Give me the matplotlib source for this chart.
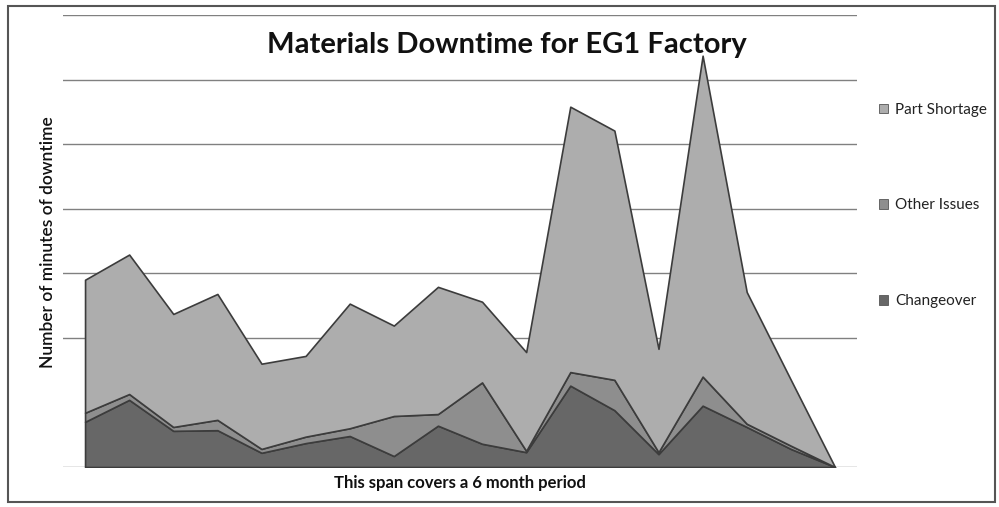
import matplotlib.pyplot as plt
from matplotlib.patches import Patch, Rectangle

plt.rcParams['font.family'] = ['Lato', 'DejaVu Sans']

# downtime per sample over the six month span (minutes)
periods = list(range(18))
changeover = [70, 104, 56, 57, 22, 37, 48, 17, 64, 36, 23, 126, 88, 20, 95, 62, 28, 0]
other_issues = [14, 9, 6, 16, 6, 10, 12, 62, 18, 95, 2, 21, 47, 3, 45, 5, 5, 0]
part_shortage = [206, 216, 175, 195, 132, 125, 193, 140, 197, 125, 153, 411, 386, 160, 497, 204, 102, 0]
series_names = ['Changeover', 'Other Issues', 'Part Shortage']
grid_levels = [0, 200, 300, 400, 500, 600, 700]

colors = ['#676767', '#8e8e8e', '#adadad']

fig = plt.figure(figsize=(9.99, 5.07), dpi=100)
ax = fig.add_axes([63 / 999, 40 / 507, 794 / 999, 452 / 507])

ax.stackplot(periods, changeover, other_issues, part_shortage,
             colors=colors, edgecolor='#3c3c3c', linewidth=1.2, zorder=2)

ax.set_xlim(-0.5, len(periods) - 0.5)
ax.set_ylim(0, 700)
ax.set_yticks(grid_levels)
ax.grid(axis='y', color='#808080', linewidth=1.0, zorder=0)
ax.set_axisbelow(True)
ax.tick_params(length=0, labelleft=False, labelbottom=False)
for side in ax.spines.values():
    side.set_visible(False)

# legend lists the top layer first
handles = [Patch(facecolor=c, edgecolor='#555555', linewidth=0.6) for c in colors]
ax.legend(handles[::-1], series_names[::-1], loc='upper left',
          bbox_to_anchor=(865 / 999, 1 - 89 / 507), bbox_transform=fig.transFigure,
          frameon=False, fontsize=11, handlelength=0.6, handleheight=0.6,
          handletextpad=0.45, labelspacing=5.35, labelcolor='#222222')

fig.text(507 / 999, 1 - 45 / 507, 'Materials Downtime for EG1 Factory',
         ha='center', va='center', fontsize=21, fontweight='bold', color='#111111')
fig.text(48 / 999, 1 - 242 / 507, 'Number of minutes of downtime',
         ha='center', va='center', rotation=90, fontsize=12.5,
         fontweight='semibold', color='#111111')
fig.text(460 / 999, 1 - 483 / 507, 'This span covers a 6 month period',
         ha='center', va='center', fontsize=12, fontweight='bold', color='#111111')

# outer chart border
fig.add_artist(Rectangle((8 / 999, 5 / 507), 987 / 999, 496 / 507,
                         transform=fig.transFigure, fill=False,
                         edgecolor='#555555', linewidth=1.5))

fig.savefig('out.png', dpi=100)
